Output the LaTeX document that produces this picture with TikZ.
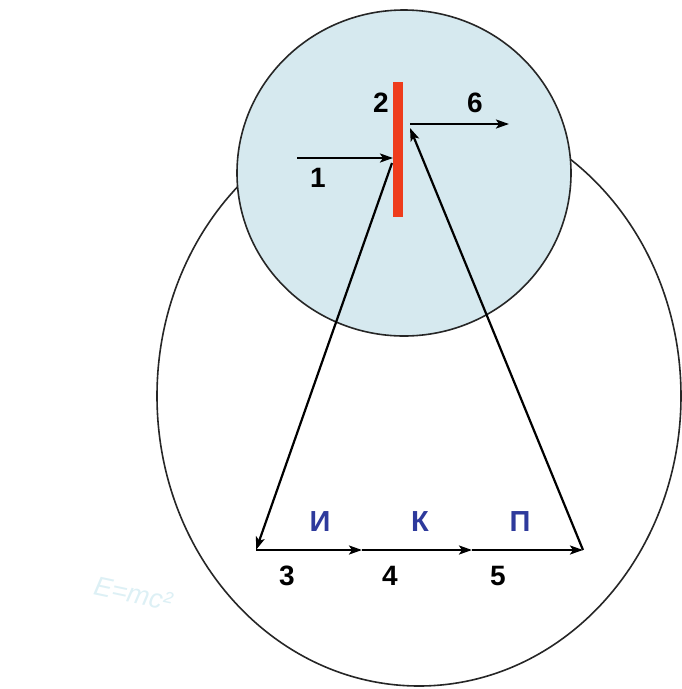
\documentclass[tikz,border=0pt]{standalone}
\usepackage{fontspec}
\setmainfont{Liberation Sans}
\usetikzlibrary{arrows.meta}
\definecolor{cellblue}{HTML}{D6E9EF}
\definecolor{barred}{HTML}{EE3C1C}
\definecolor{letterblue}{HTML}{2E3A9C}
\definecolor{wm}{HTML}{DDF0F5}
\begin{document}
\begin{tikzpicture}[x=1pt,y=-1pt,
  outline/.style={draw=black!85,line width=1.6pt},
  vec/.style={draw=black,line width=2.2pt,-{Stealth[length=13pt,width=9pt,inset=3pt]}},
  num/.style={font=\fontsize{28}{28}\selectfont\bfseries,text=black,inner sep=0pt},
  lett/.style={font=\fontsize{29}{29}\selectfont\bfseries,text=letterblue,inner sep=0pt}]
\useasboundingbox (0,0) rectangle (681,689);
% big ellipse
\draw[outline] (419,396) ellipse [x radius=262,y radius=290];
% light blue cell
\filldraw[outline,fill=cellblue] (404,173) ellipse [x radius=167,y radius=163];
% red membrane bar
\fill[barred] (393,82) rectangle (403,217);
% coordinates
\coordinate (s1) at (297,158);
\coordinate (t1) at (393,158);
\coordinate (b0) at (392,163);
\coordinate (p3) at (256,550);
\coordinate (p4) at (362,550);
\coordinate (p5) at (472,550);
\coordinate (p6) at (583,550);
\coordinate (top) at (410,128);
\coordinate (s6) at (410,124);
\coordinate (t6) at (509,124);
% arrows
\draw[vec] (s1) -- (t1);
\draw[vec] (b0) -- (p3);
\draw[vec] (p3) -- (p4);
\draw[vec] (p4) -- (p5);
\draw[vec] (p5) -- (p6);
\draw[vec] (p6) -- (top);
\draw[vec] (s6) -- (t6);
% labels
\node[num] (l1) at (318,178) {1};
\node[num] (l2) at (381,103) {2};
\node[num] (l6) at (475,103) {6};
\node[num] (l3) at (287,576) {3};
\node[num] (l4) at (390,576) {4};
\node[num] (l5) at (498,576) {5};
\node[lett] (lI) at (320,522) {И};
\node[lett] (lK) at (420,522) {К};
\node[lett] (lP) at (520,522) {П};
% watermark
\node[font=\fontsize{27}{27}\selectfont\itshape,text=wm,rotate=-12,inner sep=0pt] (wmk) at (133,594) {E=mc²};
\end{tikzpicture}
\end{document}
